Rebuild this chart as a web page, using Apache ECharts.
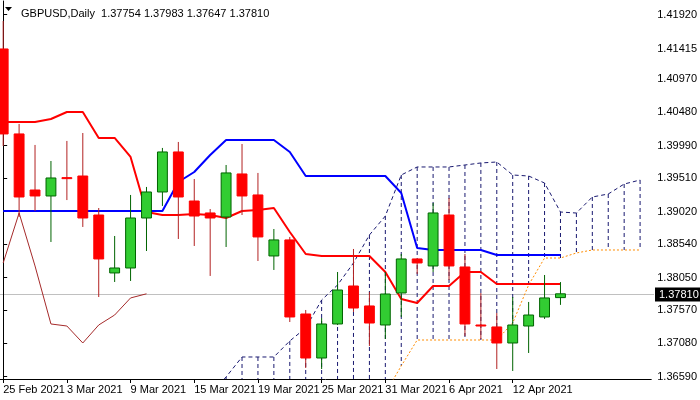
<!DOCTYPE html>
<html><head><meta charset="utf-8">
<script src="https://cdn.jsdelivr.net/npm/echarts@6/dist/echarts.min.js"></script>
<style>html,body{margin:0;padding:0;background:#fff}#c{width:700px;height:400px}</style>
</head><body><div id="c"></div>
<script>
const dateLabels = {0:'25 Feb 2021',4:'3 Mar 2021',8:'9 Mar 2021',12:'15 Mar 2021',16:'19 Mar 2021',20:'25 Mar 2021',24:'31 Mar 2021',28:'6 Apr 2021',32:'12 Apr 2021'};
const opens  = [1.41414,1.40163,1.39338,1.39250,1.39520,1.39544,1.38970,1.38117,1.38190,1.38926,1.39309,1.39898,1.39176,1.39000,1.38941,1.39574,1.39265,1.38367,1.38603,1.37513,1.36865,1.37366,1.37925,1.37631,1.37351,1.37822,1.38323,1.38220,1.38970,1.38205,1.37351,1.37322,1.37086,1.37336,1.37469,1.37754];
const highs  = [1.41826,1.40310,1.40001,1.39765,1.40060,1.40177,1.39073,1.38661,1.39265,1.39383,1.39957,1.40045,1.39500,1.39058,1.39706,1.40015,1.39589,1.38764,1.38647,1.37572,1.37454,1.38131,1.38470,1.37836,1.38131,1.38396,1.38323,1.39147,1.39220,1.38396,1.37822,1.37528,1.37763,1.37690,1.38087,1.37983];
const lows   = [1.39986,1.38941,1.39029,1.38573,1.39190,1.38794,1.37763,1.37984,1.37999,1.38440,1.39103,1.38617,1.38514,1.38073,1.38499,1.38970,1.38293,1.38161,1.37395,1.36718,1.36703,1.37350,1.37543,1.37042,1.37145,1.37469,1.38102,1.38131,1.38013,1.37189,1.37145,1.36703,1.36674,1.36939,1.37440,1.37647];
const closes = [1.40163,1.39235,1.39250,1.39515,1.39505,1.38926,1.38323,1.38190,1.38926,1.39309,1.39898,1.39235,1.38955,1.38926,1.39589,1.39250,1.38647,1.38603,1.37469,1.36865,1.37366,1.37866,1.37601,1.37380,1.37807,1.38323,1.38264,1.39000,1.38220,1.37366,1.37336,1.37086,1.37351,1.37498,1.37749,1.37810];
const tenkan = [1.40339,1.40339,1.40339,1.40383,1.40486,1.40486,1.40104,1.40104,1.39824,1.39014,1.38970,1.38970,1.38985,1.38970,1.38926,1.39029,1.39044,1.39073,1.38720,1.38396,1.38367,1.38367,1.38367,1.38367,1.38131,1.37734,1.37675,1.37925,1.37925,1.38131,1.38131,1.37955,1.37955,1.37955,1.37955,1.37955];
const kijun  = [1.39029,1.39029,1.39029,1.39029,1.39029,1.39029,1.39029,1.39029,1.39029,1.39029,1.39029,1.39456,1.39603,1.39853,1.40074,1.40074,1.40074,1.40074,1.39898,1.39544,1.39544,1.39544,1.39544,1.39544,1.39544,1.39294,1.38485,1.38455,1.38455,1.38455,1.38455,1.38382,1.38382,1.38382,1.38382,1.38382];
const chikou = [1.38264,1.39000,1.38220,1.37366,1.37336,1.37086,1.37351,1.37498,1.37749,1.37810];
const spanStart = 13;
const spanA = [1.36321,1.36586,1.36880,1.36880,1.36880,1.37116,1.37307,1.37719,1.37940,1.38264,1.38676,1.38955,1.39559,1.39677,1.39677,1.39677,1.39706,1.39736,1.39750,1.39559,1.39544,1.39441,1.39014,1.38999,1.39235,1.39279,1.39426,1.39485];
const spanB = [1.35500,1.35500,1.35500,1.35500,1.35500,1.35500,1.35500,1.35500,1.35500,1.35500,1.35953,1.36350,1.36748,1.37130,1.37130,1.37130,1.37130,1.37130,1.37130,1.37381,1.37940,1.38337,1.38337,1.38411,1.38455,1.38455,1.38455,1.38455];
const yTicks = [1.41920,1.41415,1.40970,1.40480,1.39990,1.39510,1.39020,1.38540,1.38050,1.37570,1.37080,1.36590];
const lastPrice = 1.37810;

const ohlc = opens.map((o,i)=>[i,o,closes[i],lows[i],highs[i]]);
const L = arr => arr.map((v,i)=>[i,v]);
const spanAD = spanA.map((v,i)=>[i+spanStart,v]);
const spanBD = spanB.map((v,i)=>[i+spanStart,v]);
const hatch = spanA.map((v,i)=>[i+spanStart,v,spanB[i]]);
const FONT='Liberation Sans';

const chart = echarts.init(document.getElementById('c'));
chart.setOption({
  animation:false,
  grid:{left:0,right:46,top:1,bottom:21},
  title:{text:'GBPUSD,Daily  1.37754 1.37983 1.37647 1.37810',left:16,top:3,
    textStyle:{fontSize:11,fontWeight:'normal',color:'#000',fontFamily:FONT}},
  xAxis:{type:'value',min:-0.2,max:40.7,
    axisLine:{show:true,onZero:false,lineStyle:{color:'#000'}},
    splitLine:{show:false},
    axisTick:{show:true,customValues:Object.keys(dateLabels).map(Number),length:4,lineStyle:{color:'#000'}},
    axisLabel:{customValues:Object.keys(dateLabels).map(Number),formatter:v=>dateLabels[Math.round(v)]||'',
      align:'left',margin:5,fontSize:11,color:'#000',fontFamily:FONT}},
  yAxis:{type:'value',position:'right',min:1.36556,max:1.42120,scale:true,
    axisLine:{show:true,lineStyle:{color:'#000'}},
    splitLine:{show:false},
    axisTick:{show:true,customValues:yTicks,length:4,lineStyle:{color:'#000'}},
    axisLabel:{customValues:yTicks,formatter:v=>v.toFixed(5),align:'left',margin:6,fontSize:11,color:'#000',fontFamily:FONT}},
  series:[
    {type:'custom',clip:true,data:hatch,z:1,
      renderItem:(p,api)=>{const a=api.coord([api.value(0),api.value(1)]),b=api.coord([api.value(0),api.value(2)]);
        return {type:'line',shape:{x1:a[0],y1:a[1],x2:b[0],y2:b[1]},style:{stroke:'#191970',lineWidth:1,lineDash:[4,3]}};}},
    {type:'line',data:spanAD,symbol:'none',z:2,lineStyle:{color:'#191970',width:1,type:[4,3]}},
    {type:'line',data:spanBD,symbol:'none',z:2,lineStyle:{color:'#ff8c00',width:1,type:[2,2]}},
    {type:'line',data:L(chikou),symbol:'none',z:3,lineStyle:{color:'#a52a2a',width:1}},
    {type:'line',data:L(kijun),symbol:'none',z:3,lineStyle:{color:'#0000ff',width:2}},
    {type:'line',data:L(tenkan),symbol:'none',z:3,lineStyle:{color:'#ff0000',width:2}},
    {type:'custom',clip:true,data:ohlc,z:5,
      renderItem:(p,api)=>{
        const x=api.value(0),o=api.value(1),c=api.value(2),l=api.value(3),h=api.value(4);
        const po=api.coord([x,o]),pc=api.coord([x,c]),pl=api.coord([x,l]),ph=api.coord([x,h]);
        const w=api.size([1,0])[0]*0.62;const bull=c>=o;
        const top=Math.min(po[1],pc[1]),ht=Math.max(Math.abs(po[1]-pc[1]),1);
        return {type:'group',children:[
          {type:'line',shape:{x1:po[0],y1:ph[1],x2:po[0],y2:pl[1]},style:{stroke:bull?'#006400':'#b22222',lineWidth:1}},
          {type:'rect',shape:{x:po[0]-w/2,y:top,width:w,height:ht},
            style:bull?{fill:'#32cd32',stroke:'#006400',lineWidth:1}:{fill:'#ff0000',stroke:'#ff0000',lineWidth:1}}]};}},
  ]
});
const yp = Math.round(chart.convertToPixel({yAxisIndex:0},lastPrice))+0.5;
chart.setOption({graphic:[
  {type:'polygon',shape:{points:[[5,7],[12,7],[8.5,11]]},style:{fill:'#000'}},
  {type:'line',shape:{x1:0,y1:yp,x2:654,y2:yp},style:{stroke:'#c0c0c0',lineWidth:1},z:0,silent:true},
  {type:'rect',shape:{x:655,y:yp-7,width:45,height:14},style:{fill:'#000'},z:10},
  {type:'text',x:659,y:yp,style:{text:lastPrice.toFixed(5),fill:'#fff',fontSize:11,fontFamily:FONT,verticalAlign:'middle'},z:11}]});
</script></body></html>
